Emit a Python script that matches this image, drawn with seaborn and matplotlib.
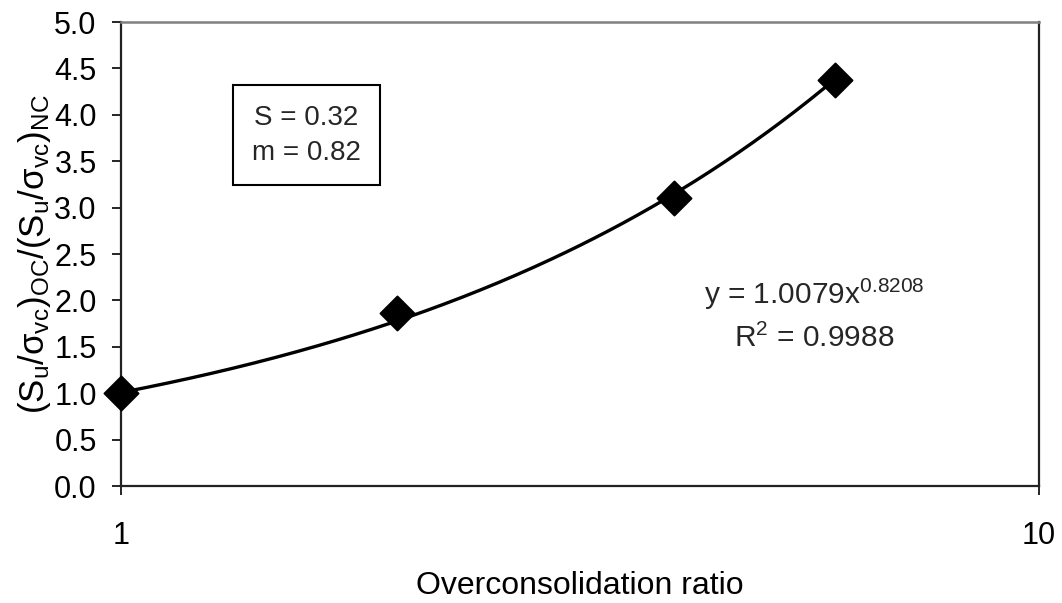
import numpy as np
import pandas as pd
import matplotlib
matplotlib.use("Agg")
import matplotlib.pyplot as plt
import seaborn as sns

# Measured strength ratios against overconsolidation ratio
ocr = [1, 2, 4, 6]
strength_ratio = [1.0, 1.86, 3.10, 4.37]

# Power-law fit parameters
fit_a = 1.0079
fit_b = 0.8208
r_squared = 0.9988
s_param = 0.32
m_param = 0.82

x_ticks = [1, 10]
y_ticks = [0.0, 0.5, 1.0, 1.5, 2.0, 2.5, 3.0, 3.5, 4.0, 4.5, 5.0]

sns.set_theme(style="white")
plt.rcParams["font.family"] = ["Liberation Sans", "DejaVu Sans"]
plt.rcParams["mathtext.fontset"] = "custom"
plt.rcParams["mathtext.rm"] = "Liberation Sans"
plt.rcParams["mathtext.it"] = "Liberation Sans"

fig = plt.figure(figsize=(10.62, 6.03), dpi=100)
ax = fig.add_axes([0.1139, 0.194, 0.8644, 0.7695])

points = pd.DataFrame({"ocr": ocr, "ratio": strength_ratio})
x_fit = np.geomspace(min(ocr), max(ocr), 200)
fit = pd.DataFrame({"ocr": x_fit, "ratio": fit_a * x_fit ** fit_b})

sns.lineplot(data=fit, x="ocr", y="ratio", ax=ax, color="black", lw=2.4)
sns.scatterplot(data=points, x="ocr", y="ratio", ax=ax, marker="D", s=300,
                color="black", edgecolor="black", zorder=5, clip_on=False)

ax.set_xscale("log")
ax.set_xlim(1, 10)
ax.set_ylim(0, 5)
ax.set_xticks(x_ticks)
ax.set_xticklabels([str(t) for t in x_ticks])
ax.xaxis.set_minor_locator(matplotlib.ticker.NullLocator())
ax.set_yticks(y_ticks)
ax.set_yticklabels([f"{t:.1f}" for t in y_ticks])

ax.tick_params(axis="both", which="major", direction="out", length=6.5, width=1.2,
               color="black", labelsize=22, labelcolor="black",
               left=True, bottom=True)
ax.tick_params(axis="x", pad=19)
ax.tick_params(axis="y", pad=11)

for side in ["left", "bottom", "right"]:
    ax.spines[side].set_color("#222222")
    ax.spines[side].set_linewidth(1.6)
ax.spines["top"].set_color("#808080")
ax.spines["top"].set_linewidth(1.8)

ax.set_xlabel("Overconsolidation ratio", fontsize=23, color="black", labelpad=14)
ax.set_ylabel(r"(S$_\mathregular{u}$/σ$_\mathregular{vc}$)$_\mathregular{OC}$/(S$_\mathregular{u}$/σ$_\mathregular{vc}$)$_\mathregular{NC}$",
              fontsize=25, color="black", labelpad=1)

ax.text(0.202, 0.756, f"S = {s_param:.2f}\nm = {m_param:.2f}", transform=ax.transAxes,
        ha="center", va="center", fontsize=20, linespacing=1.45,
        bbox=dict(boxstyle="square,pad=0.7", facecolor="white", edgecolor="black", lw=1.5))

ax.text(0.755, 0.412, f"y = {fit_a:.4f}x$^\\mathregular{{{fit_b:.4f}}}$", transform=ax.transAxes,
        ha="center", va="center", fontsize=21.5)
ax.text(0.755, 0.318, f"R$^\\mathregular{{2}}$ = {r_squared:.4f}", transform=ax.transAxes,
        ha="center", va="center", fontsize=21.5)

fig.savefig("out.png", dpi=100)
